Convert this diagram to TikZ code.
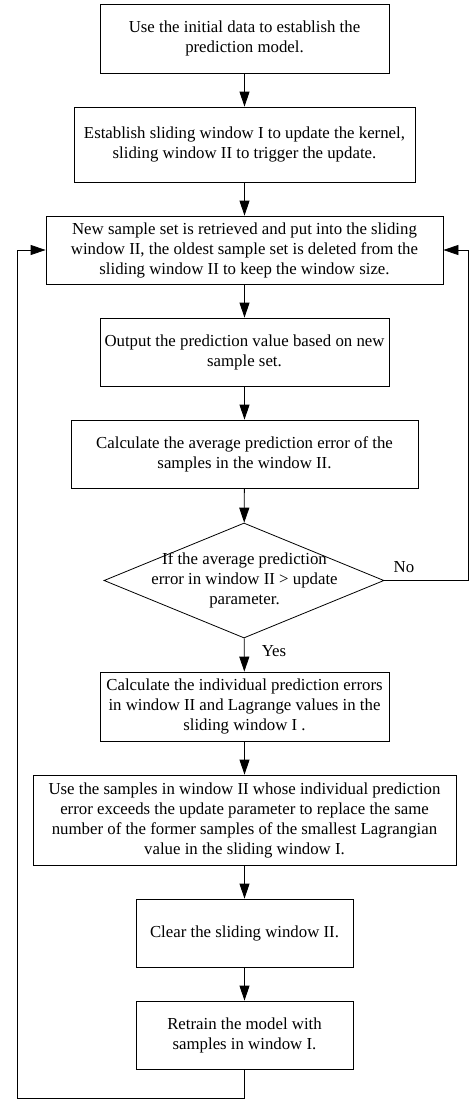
\documentclass[tikz,border=0pt]{standalone}
\usepackage{fontspec}
\setmainfont{Liberation Serif}
\usetikzlibrary{arrows.meta,shapes.geometric}
\begin{document}
\begin{tikzpicture}[x=1pt,y=-1pt,
  every node/.style={font=\fontsize{16.8}{20}\selectfont},
  box/.style={draw,rectangle,inner sep=0pt,align=center,line width=0.8pt},
  arr/.style={line width=0.8pt,-{Triangle[length=15pt,width=10pt]}},
  ln/.style={line width=0.8pt}]
\useasboundingbox (0,0) rectangle (469,1100);
\node[box,minimum width=289pt,minimum height=69pt] (b1) at (244.5,38.5) {Use the initial data to establish the\\prediction model.};
\node[box,minimum width=341pt,minimum height=75pt] (b2) at (244.5,144.5) {Establish sliding window I to update the kernel,\\sliding window II to trigger the update.};
\node[box,minimum width=397pt,minimum height=68pt] (b3) at (244.5,250) {New sample set is retrieved and put into the sliding\\window II, the oldest sample set is deleted from the\\sliding window II to keep the window size.};
\node[box,minimum width=289pt,minimum height=68pt] (b4) at (244.5,352) {Output the prediction value based on new\\sample set.};
\node[box,minimum width=347pt,minimum height=68pt] (b5) at (244.5,454) {Calculate the average prediction error of the\\samples in the window II.};
\node[diamond,draw,line width=0.8pt,inner sep=0pt,minimum width=280pt,minimum height=115pt] (d) at (244,580.5) {};
\node[align=center,inner sep=0pt] (dt) at (244.5,580.5) {If the average prediction\\error in window II > update\\parameter.};
\node[box,minimum width=289pt,minimum height=69pt] (b6) at (244.5,706.5) {Calculate the individual prediction errors\\in window II and Lagrange values in the\\sliding window I .};
\node[box,minimum width=423pt,minimum height=90pt] (b7) at (244.5,820) {Use the samples in window II whose individual prediction\\error exceeds the update parameter to replace the same\\number of the former samples of the smallest Lagrangian\\value in the sliding window I.};
\node[box,minimum width=217pt,minimum height=68pt] (b8) at (244.5,933) {Clear the sliding window II.};
\node[box,minimum width=217pt,minimum height=68pt] (b9) at (244.5,1035) {Retrain the model with\\samples in window I.};
\node (no) at (404,567) {No};
\node (yes) at (274,651) {Yes};
\draw[arr] (b1) -- (b2);
\draw[arr] (b2) -- (b3);
\draw[arr] (b3) -- (b4);
\draw[arr] (b4) -- (b5);
\draw[arr] (b5) -- (d);
\draw[arr] (d) -- (b6);
\draw[arr] (b6) -- (b7);
\draw[arr] (b7) -- (b8);
\draw[arr] (b8) -- (b9);
\coordinate (nr) at (468,580.5);
\draw[arr] (d.east) -- (nr) |- (b3.east);
\coordinate (lb) at (244.5,1098);
\coordinate (ll) at (17,1098);
\draw[arr] (b9.south) -- (lb) -- (ll) |- (b3.west);
\end{tikzpicture}
\end{document}
